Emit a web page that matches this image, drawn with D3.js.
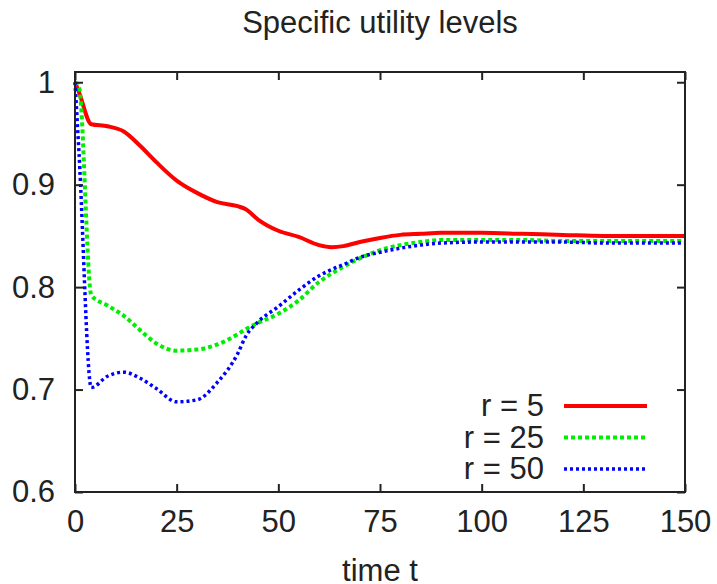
<!DOCTYPE html>
<html>
<head>
<meta charset="utf-8">
<script src="https://cdn.jsdelivr.net/npm/d3@7"></script>
<style>
  body { margin: 0; background: #fff; }
  text { font-family: "Liberation Sans", Arial, sans-serif; fill: #222; }
</style>
</head>
<body>
<script>
// time points
var times = [0, 1, 4, 8, 12, 16, 20, 25, 30, 35, 40, 42, 45, 50, 55, 60, 63, 66, 70, 75, 80, 85, 90, 100, 110, 120, 130, 140, 150];
var r5  = [1.0, 0.99, 0.959, 0.957, 0.952, 0.938, 0.922, 0.904, 0.892, 0.883, 0.879, 0.876, 0.866, 0.855, 0.849, 0.841, 0.839, 0.840, 0.844, 0.848, 0.851, 0.852, 0.853, 0.853, 0.852, 0.851, 0.850, 0.850, 0.850];
var r25 = [1.0, 0.995, 0.792, 0.782, 0.772, 0.758, 0.745, 0.738, 0.739, 0.744, 0.754, 0.759, 0.765, 0.774, 0.787, 0.805, 0.813, 0.820, 0.828, 0.836, 0.841, 0.844, 0.846, 0.846, 0.846, 0.845, 0.845, 0.845, 0.845];
var r50 = [1.0, 0.93, 0.702, 0.713, 0.717, 0.711, 0.701, 0.688, 0.690, 0.707, 0.735, 0.752, 0.766, 0.781, 0.797, 0.811, 0.817, 0.822, 0.829, 0.834, 0.838, 0.841, 0.843, 0.844, 0.844, 0.844, 0.843, 0.843, 0.843];
var seriesNames = ["r = 5", "r = 25", "r = 50"];
var xTicks = [0, 25, 50, 75, 100, 125, 150];
var yTicks = [0.6, 0.7, 0.8, 0.9, 1];

var W = 717, H = 584;
var pLeft = 75, pTop = 72, pRight = 685, pBottom = 492;
var fs = "31px";

var svg = d3.select("body").append("svg")
    .attr("width", W)
    .attr("height", H);

var x = d3.scaleLinear().domain([0, 150]).range([pLeft, pRight]);
var y = d3.scaleLinear().domain([0.6, 1.01]).range([pBottom, pTop]);

var series = [
  {name: seriesNames[0], values: r5,  color: "#ff0000", width: 4,   dash: null},
  {name: seriesNames[1], values: r25, color: "#00ee00", width: 4,   dash: "4,3"},
  {name: seriesNames[2], values: r50, color: "#0000ff", width: 3.5, dash: "3,3"}
];

var line = d3.line()
    .x(function(d) { return x(d[0]); })
    .y(function(d) { return y(d[1]); })
    .curve(d3.curveMonotoneX);

var plot = svg.append("g");
series.forEach(function(s) {
  plot.append("path")
      .datum(times.map(function(t, i) { return [t, s.values[i]]; }))
      .attr("d", line)
      .attr("fill", "none")
      .attr("stroke", s.color)
      .attr("stroke-width", s.width)
      .attr("stroke-dasharray", s.dash);
});

// axes: ticks inside, mirrored on all four sides
var tl = 8;
svg.append("g").attr("transform", "translate(0," + pBottom + ")")
    .call(d3.axisBottom(x).tickValues(xTicks).tickSize(-tl).tickPadding(18).tickFormat(d3.format("d")));
svg.append("g").attr("transform", "translate(0," + pTop + ")")
    .call(d3.axisTop(x).tickValues(xTicks).tickSize(-tl).tickFormat(""));
svg.append("g").attr("transform", "translate(" + pLeft + ",0)")
    .call(d3.axisLeft(y).tickValues(yTicks).tickSize(-tl).tickPadding(20).tickFormat(function(d) { return d === 1 ? "1" : d3.format(".1f")(d); }));
svg.append("g").attr("transform", "translate(" + pRight + ",0)")
    .call(d3.axisRight(y).tickValues(yTicks).tickSize(-tl).tickFormat(""));

svg.selectAll(".domain").remove();
svg.selectAll(".tick line").attr("stroke", "#222").attr("stroke-width", 2);
svg.selectAll(".tick text").style("font-size", fs).attr("fill", "#222");

svg.append("rect")
    .attr("x", pLeft).attr("y", pTop)
    .attr("width", pRight - pLeft).attr("height", pBottom - pTop)
    .attr("fill", "none")
    .attr("stroke", "#222")
    .attr("stroke-width", 2);

svg.append("text")
    .attr("x", (pLeft + pRight) / 2).attr("y", 33)
    .attr("text-anchor", "middle")
    .style("font-size", fs)
    .text("Specific utility levels");

svg.append("text")
    .attr("x", (pLeft + pRight) / 2).attr("y", 581)
    .attr("text-anchor", "middle")
    .style("font-size", fs)
    .text("time t");

// legend
var legend = svg.append("g");
series.forEach(function(s, i) {
  var ly = 406 + i * 31.5;
  legend.append("text")
      .attr("x", 544).attr("y", ly + 10)
      .attr("text-anchor", "end")
      .style("font-size", fs)
      .text(s.name);
  legend.append("line")
      .attr("x1", 564).attr("x2", 647)
      .attr("y1", ly).attr("y2", ly)
      .attr("stroke", s.color)
      .attr("stroke-width", s.width)
      .attr("stroke-dasharray", s.dash);
});
</script>
</body>
</html>
